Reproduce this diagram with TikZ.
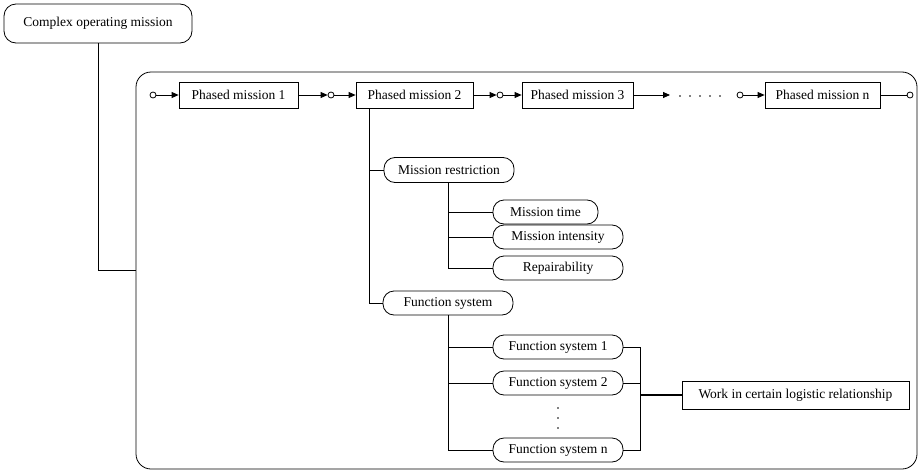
\documentclass[tikz,border=0pt]{standalone}
\usepackage{fontspec}
\setmainfont{Liberation Serif}
\usetikzlibrary{arrows.meta}
\tikzset{
  txt/.style={font=\fontsize{13.5}{15}\selectfont, inner sep=0pt},
  rbox/.style={txt, draw, rounded corners=11pt, minimum height=24pt},
  sbox/.style={txt, draw, minimum height=26pt},
  pin/.style={draw, circle, inner sep=0pt, minimum size=6pt, fill=white},
  arr/.style={-{Triangle[length=7pt,width=6pt]}},
  dotc/.style={fill, circle, inner sep=0pt, minimum size=1.6pt},
  every path/.style={line width=0.8pt}
}
\begin{document}
\begin{tikzpicture}[x=1pt,y=-1pt]
\useasboundingbox (0,0) rectangle (923,471);
% frame
\node[draw, rounded corners=15pt, minimum width=781pt, minimum height=397pt, inner sep=0pt] (frame) at (526.5,270.5) {};
% top node
\node[rbox, rounded corners=12pt, minimum width=188pt, minimum height=39pt] (cm) at (98,23.5) {Complex operating mission};
\draw (cm.south) |- (frame.west);
% phased missions
\node[sbox, minimum width=119pt] (p1) at (238.5,95) {Phased mission 1};
\node[sbox, minimum width=117pt] (p2) at (414.5,95) {Phased mission 2};
\node[sbox, minimum width=111pt] (p3) at (577.5,95) {Phased mission 3};
\node[sbox, minimum width=115pt] (pn) at (822.5,95) {Phased mission n};
\node[pin] (c0) at (153,95) {};
\node[pin] (c1) at (331,95) {};
\node[pin] (c2) at (500,95) {};
\node[pin] (cn) at (740,95) {};
\node[pin] (ce) at (910,95) {};
\coordinate (d0) at (670,95);
\draw[arr] (c0) -- (p1);
\draw[arr] (p1) -- (c1);
\draw[arr] (c1) -- (p2);
\draw[arr] (p2) -- (c2);
\draw[arr] (c2) -- (p3);
\draw[arr] (p3) -- (d0);
\foreach \x in {680,690,700,710,720} \node[dotc] at (\x,96) {};
\draw[arr] (cn) -- (pn);
\draw (pn) -- (ce);
% mission restriction
\node[rbox, minimum width=130pt, minimum height=25pt] (mr) at (449,170) {Mission restriction};
\node[rbox, minimum width=105pt] (mt) at (545.5,212) {Mission time};
\node[rbox, minimum width=130pt] (mi) at (558,237) {Mission intensity};
\node[rbox, minimum width=130pt] (rp) at (558,268) {Repairability};
\node[rbox, minimum width=130pt] (fs) at (448,303) {Function system};
\draw ([xshift=14pt]p2.south west) |- (mr.west);
\draw ([xshift=14pt]p2.south west) |- (fs.west);
\draw ([xshift=-1pt]mr.south) |- (mt.west);
\draw ([xshift=-1pt]mr.south) |- (mi.west);
\draw ([xshift=-1pt]mr.south) |- (rp.west);
% function systems
\node[rbox, minimum width=130pt] (f1) at (558,347) {Function system 1};
\node[rbox, minimum width=130pt] (f2) at (558,383) {Function system 2};
\node[rbox, minimum width=130pt] (fn) at (558,450) {Function system n};
\foreach \y in {408,418,428} \node[dotc] at (558,\y) {};
\draw (fs.south) |- (f1.west);
\draw (fs.south) |- (f2.west);
\draw (fs.south) |- (fn.west);
\node[sbox, minimum width=227pt, minimum height=28pt] (wk) at (795.5,395) {Work in certain logistic relationship};
\coordinate (br) at (640,395);
\draw (f1.east) -| (br);
\draw (f2.east) -| (br);
\draw (fn.east) -| (br);
\draw[line width=2pt] (br) -- (wk.west);
\end{tikzpicture}
\end{document}
